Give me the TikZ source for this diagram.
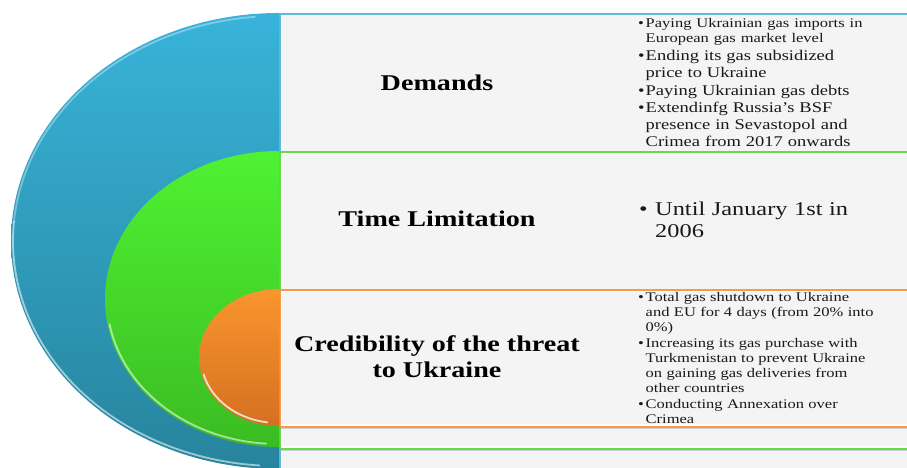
\documentclass[tikz,border=0pt]{standalone}
\usepackage{fontspec}
\setmainfont{Liberation Serif}[FakeStretch=1.25]
\usetikzlibrary{shadows}

\definecolor{bluetop}{HTML}{38B3D9}
\definecolor{bluebot}{HTML}{27849D}
\definecolor{greentop}{HTML}{4FF233}
\definecolor{greenbot}{HTML}{3BBC22}
\definecolor{orangetop}{HTML}{FA962D}
\definecolor{orangebot}{HTML}{D47021}
\definecolor{blueline}{HTML}{5DBCD8}
\definecolor{greenline}{HTML}{62DC4C}
\definecolor{orangeline}{HTML}{F79A4C}
\definecolor{panelgray}{HTML}{F4F4F4}

\newcommand{\entry}[2][7.5pt]{\par\noindent\makebox[#1][l]{\textbullet}\parbox[t]{250pt}{\raggedright\strut #2\strut}}

\tikzset{
  panel/.style={draw=#1, line width=1.8pt, fill=white, minimum width=640pt,
    anchor=north west, inner sep=0pt,
    drop shadow={shadow xshift=0pt, shadow yshift=-2.5pt, opacity=0.3},
    path picture={\fill[panelgray] ([shift={(2.5pt,2.5pt)}]path picture bounding box.south west)
      rectangle ([shift={(-2.5pt,-2.5pt)}]path picture bounding box.north east);}},
  heading/.style={font=\fontsize{22.5}{26}\selectfont\bfseries, align=center},
  points/.style={anchor=west, text width=265pt, align=left, inner sep=0pt, text=black!90},
  rim/.style={draw=white, line width=1.8pt, opacity=0.55, line cap=round}
}

\begin{document}
\begin{tikzpicture}[x=1pt,y=1pt]
  \useasboundingbox (0,0) rectangle (907,468);
  \clip (0,0) rectangle (907,468);
  \fill[white] (0,0) rectangle (907,468);

  % panels
  \node[panel=blueline, minimum height=470pt] (demandsbox) at (279,455) {};
  \node[panel=greenline, minimum height=297pt] (timebox) at (279,317) {};
  \node[panel=orangeline, minimum height=137pt] (threatbox) at (279,179) {};

  % half discs
  \shade[top color=bluetop, bottom color=bluebot] (demandsbox.north west)
    arc[start angle=90, end angle=270, x radius=268, y radius=228] -- cycle;
  \shade[top color=greentop, bottom color=greenbot] (timebox.north west)
    arc[start angle=90, end angle=270, x radius=174, y radius=148] -- cycle;
  \shade[top color=orangetop, bottom color=orangebot] (threatbox.north west)
    arc[start angle=90, end angle=270, x radius=80, y radius=68.5] -- cycle;

  \coordinate (bluec) at (278,227);
  \coordinate (greenc) at (278,169);
  \coordinate (orangec) at (278,110.5);
  \draw[rim, opacity=0.35] (bluec) ++(95:265 and 225) arc[start angle=95, end angle=175, x radius=265, y radius=225];
  \draw[rim] (bluec) ++(175:265 and 225) arc[start angle=175, end angle=266, x radius=265, y radius=225];
  \draw[rim] (greenc) ++(190:171 and 145) arc[start angle=190, end angle=266, x radius=171, y radius=145];
  \draw[rim, opacity=0.75] (orangec) ++(195:77 and 65.5) arc[start angle=195, end angle=262, x radius=77, y radius=65.5];

  % headings
  \node[heading] (demands) at (437,385) {Demands};
  \node[heading] (timelimit) at (437,249) {Time Limitation};
  \node[heading] (credibility) at (437,111) {Credibility of the threat\\to Ukraine};

  % bullet lists
  \node[points, font=\fontsize{14.8}{17}\selectfont] (demandlist) at (638,386) {%
    {\fontsize{13.2}{15}\selectfont\entry{Paying Ukrainian gas imports in\\European gas market level}\par}
    \entry{Ending its gas subsidized\\price to Ukraine}
    \entry{Paying Ukrainian\ gas debts}
    \entry{Extendinfg\ Russia's BSF\\presence in\ Sevastopol and\\Crimea\ from 2017 onwards}};
  \node[points, font=\fontsize{19.5}{22}\selectfont] (timelist) at (639,249) {%
    \entry[16pt]{Until January 1st in\\2006}};
  \node[points, font=\fontsize{13.2}{15}\selectfont] (threatlist) at (638,111) {%
    \entry{Total gas shutdown to Ukraine\\and EU for 4 days (from 20\% into\\0\%)}
    \entry{Increasing its gas purchase with\\Turkmenistan to prevent Ukraine\\on gaining gas deliveries from\\other countries}
    \entry{Conducting Annexation over\\Crimea}};
\end{tikzpicture}
\end{document}
